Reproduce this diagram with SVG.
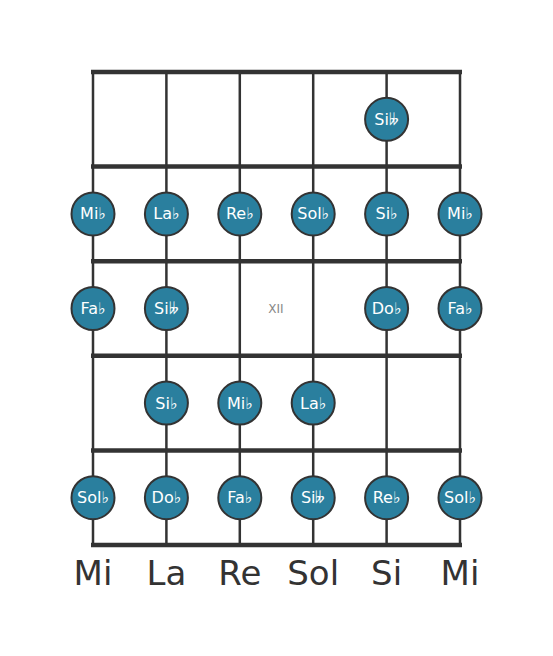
<svg xmlns="http://www.w3.org/2000/svg" width="553" height="656" viewBox="0 0 553 656">
<style>
.str{stroke:#333;stroke-width:2.5}
.fret{stroke:#333;stroke-width:4.5}
.n circle{fill:#2a7f9e;stroke:#333;stroke-width:2}
.n text{fill:#fff;font-family:"DejaVu Sans",sans-serif;font-size:16px;text-anchor:middle;dominant-baseline:central}
.lbl{fill:#333;font-family:"DejaVu Sans",sans-serif;font-size:34px;text-anchor:middle}
</style>
<rect width="553" height="656" fill="#fff"/>
<g id="connectors">
<line class="str" x1="93" y1="72" x2="93" y2="545"/>
<line class="str" x1="166.4" y1="72" x2="166.4" y2="545"/>
<line class="str" x1="239.8" y1="72" x2="239.8" y2="545"/>
<line class="str" x1="313.2" y1="72" x2="313.2" y2="545"/>
<line class="str" x1="386.6" y1="72" x2="386.6" y2="545"/>
<line class="str" x1="460" y1="72" x2="460" y2="545"/>
<line class="fret" x1="91" y1="72" x2="462" y2="72"/>
<line class="fret" x1="91" y1="166.6" x2="462" y2="166.6"/>
<line class="fret" x1="91" y1="261.2" x2="462" y2="261.2"/>
<line class="fret" x1="91" y1="355.8" x2="462" y2="355.8"/>
<line class="fret" x1="91" y1="450.4" x2="462" y2="450.4"/>
<line class="fret" x1="91" y1="545" x2="462" y2="545"/>
</g>
<text id="fretno" x="276" y="309" fill="#888" font-family="DejaVu Sans,sans-serif" font-size="12" text-anchor="middle" dominant-baseline="central">XII</text>
<g id="n1" class="n"><circle cx="386.6" cy="119.3" r="21.5"/><text x="386.6" y="119.3">Si𝄫</text></g>
<g id="n2" class="n"><circle cx="93" cy="213.9" r="21.5"/><text x="93" y="213.9">Mi♭</text></g>
<g id="n3" class="n"><circle cx="166.4" cy="213.9" r="21.5"/><text x="166.4" y="213.9">La♭</text></g>
<g id="n4" class="n"><circle cx="239.8" cy="213.9" r="21.5"/><text x="239.8" y="213.9">Re♭</text></g>
<g id="n5" class="n"><circle cx="313.2" cy="213.9" r="21.5"/><text x="313.2" y="213.9">Sol♭</text></g>
<g id="n6" class="n"><circle cx="386.6" cy="213.9" r="21.5"/><text x="386.6" y="213.9">Si♭</text></g>
<g id="n7" class="n"><circle cx="460" cy="213.9" r="21.5"/><text x="460" y="213.9">Mi♭</text></g>
<g id="n8" class="n"><circle cx="93" cy="308.5" r="21.5"/><text x="93" y="308.5">Fa♭</text></g>
<g id="n9" class="n"><circle cx="166.4" cy="308.5" r="21.5"/><text x="166.4" y="308.5">Si𝄫</text></g>
<g id="n10" class="n"><circle cx="386.6" cy="308.5" r="21.5"/><text x="386.6" y="308.5">Do♭</text></g>
<g id="n11" class="n"><circle cx="460" cy="308.5" r="21.5"/><text x="460" y="308.5">Fa♭</text></g>
<g id="n12" class="n"><circle cx="166.4" cy="403.1" r="21.5"/><text x="166.4" y="403.1">Si♭</text></g>
<g id="n13" class="n"><circle cx="239.8" cy="403.1" r="21.5"/><text x="239.8" y="403.1">Mi♭</text></g>
<g id="n14" class="n"><circle cx="313.2" cy="403.1" r="21.5"/><text x="313.2" y="403.1">La♭</text></g>
<g id="n15" class="n"><circle cx="93" cy="497.7" r="21.5"/><text x="93" y="497.7">Sol♭</text></g>
<g id="n16" class="n"><circle cx="166.4" cy="497.7" r="21.5"/><text x="166.4" y="497.7">Do♭</text></g>
<g id="n17" class="n"><circle cx="239.8" cy="497.7" r="21.5"/><text x="239.8" y="497.7">Fa♭</text></g>
<g id="n18" class="n"><circle cx="313.2" cy="497.7" r="21.5"/><text x="313.2" y="497.7">Si𝄫</text></g>
<g id="n19" class="n"><circle cx="386.6" cy="497.7" r="21.5"/><text x="386.6" y="497.7">Re♭</text></g>
<g id="n20" class="n"><circle cx="460" cy="497.7" r="21.5"/><text x="460" y="497.7">Sol♭</text></g>
<g id="labels">
<text class="lbl" x="93" y="585">Mi</text>
<text class="lbl" x="166.4" y="585">La</text>
<text class="lbl" x="239.8" y="585">Re</text>
<text class="lbl" x="313.2" y="585">Sol</text>
<text class="lbl" x="386.6" y="585">Si</text>
<text class="lbl" x="460" y="585">Mi</text>
</g>
</svg>
